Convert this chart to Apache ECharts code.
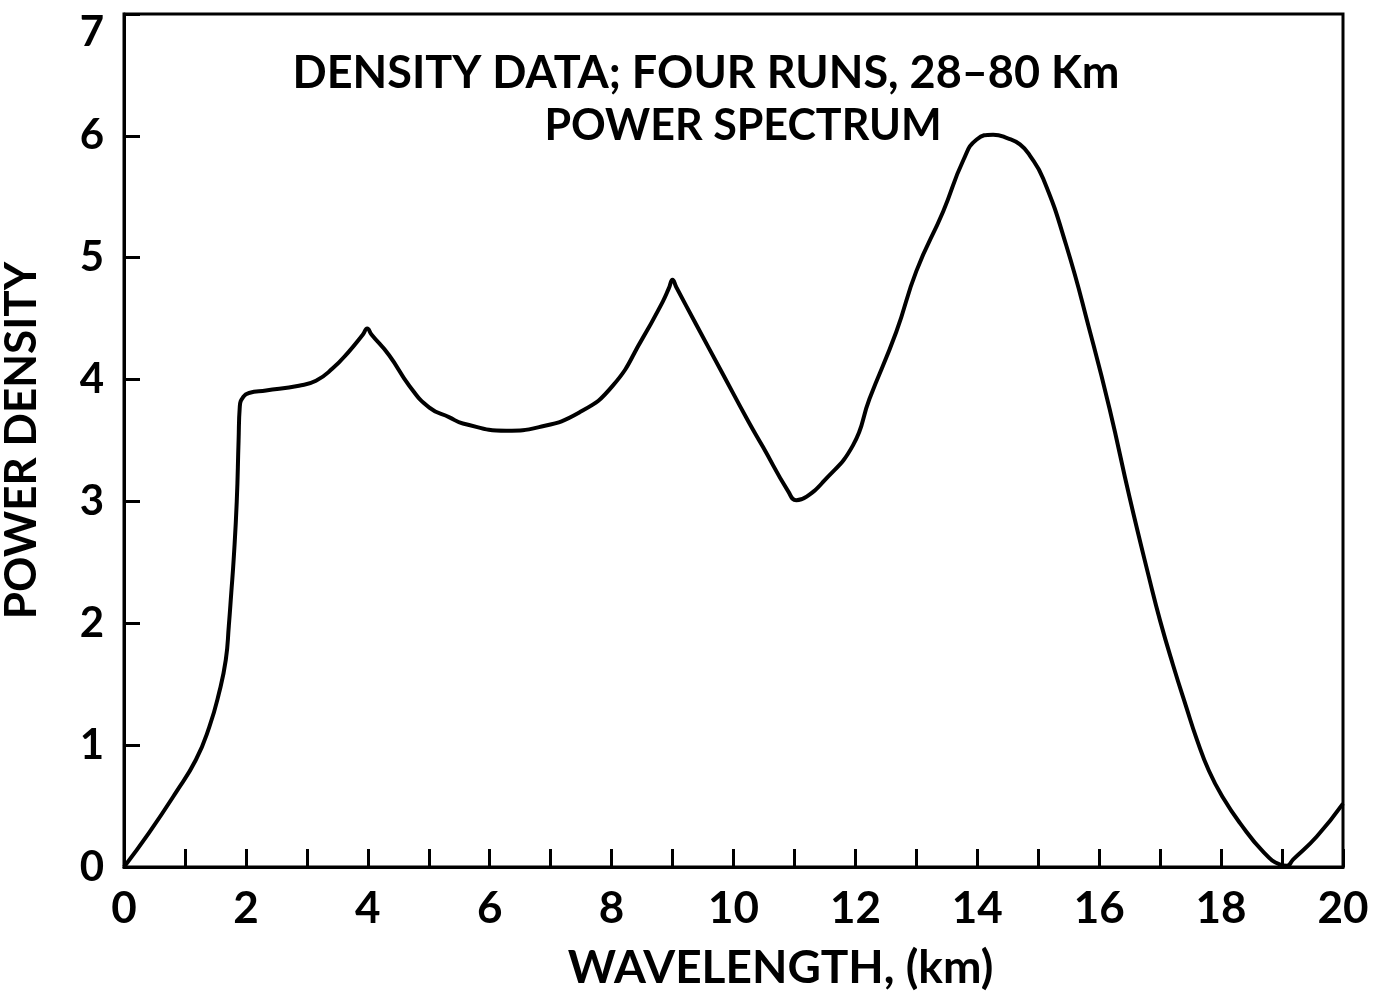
<!DOCTYPE html>
<html>
<head>
<meta charset="utf-8">
<script src="https://cdn.jsdelivr.net/npm/echarts@6/dist/echarts.min.js"></script>
<style>
  html, body { margin: 0; padding: 0; background: #fff; }
  #chart { width: 1381px; height: 992px; }
</style>
</head>
<body>
<div id="chart"></div>
<script>
// Power spectrum of density data (four runs, 28-80 km)
const wavelengthKm = [
  0, 0.41, 0.85, 1.18, 1.40, 1.56, 1.67, 1.72, 1.76, 1.80, 1.85, 1.88, 1.90, 1.96, 2.05,
  2.33, 2.87, 3.15, 3.42, 3.69, 3.92, 3.99, 4.06, 4.35, 4.68, 5.01, 5.34, 5.56, 6.27, 6.81,
  7.47, 8.02, 8.51, 8.84, 8.94, 9.0, 9.06, 9.39, 9.82, 10.24, 10.48, 10.9, 11.03, 11.2, 11.47,
  11.96, 12.23, 12.67, 13.0, 13.44, 13.77, 13.99, 14.26, 14.5, 14.70, 14.86, 15.08,
  15.46, 15.85, 16.17, 16.50, 16.83, 17.0, 17.21, 17.43, 17.6, 17.8, 18.03, 18.31, 18.7,
  18.97, 19.08, 19.18, 19.57, 20.0
];
const powerDensity = [
  0, 0.28, 0.61, 0.88, 1.15, 1.43, 1.70, 1.98, 2.25, 2.53, 3.0, 3.5, 3.78, 3.86, 3.89,
  3.91, 3.95, 3.99, 4.09, 4.23, 4.37, 4.42, 4.37, 4.20, 3.95, 3.77, 3.69, 3.64, 3.58, 3.61,
  3.73, 3.95, 4.34, 4.64, 4.75, 4.82, 4.76, 4.45, 4.05, 3.66, 3.45, 3.08, 3.01, 3.04, 3.16,
  3.46, 3.84, 4.39, 4.89, 5.38, 5.80, 5.97, 6.01, 5.98, 5.93, 5.84, 5.65,
  5.10, 4.39, 3.76, 3.03, 2.35, 2.02, 1.66, 1.31, 1.05, 0.79, 0.57, 0.36, 0.12,
  0.02, 0.01, 0.06, 0.25, 0.52
];
const titleLines = ['DENSITY DATA; FOUR RUNS, 28\u201380 Km', 'POWER SPECTRUM'];
const xAxisTitle = 'WAVELENGTH, (km)';
const yAxisTitle = 'POWER DENSITY';

const FONT = 'Lato, "DejaVu Sans", sans-serif';
const chart = echarts.init(document.getElementById('chart'), null, { renderer: 'canvas' });

const points = wavelengthKm.map((x, i) => [x, powerDensity[i]]);
const Y_MAX = 7;

chart.setOption({
  backgroundColor: '#ffffff',
  animation: false,
  title: [
    {
      text: titleLines[0], left: 701, top: 46, textAlign: 'center',
      textStyle: { fontFamily: FONT, fontWeight: 'bold', fontSize: 45, color: '#000' }
    },
    {
      text: titleLines[1], left: 738, top: 100, textAlign: 'center',
      textStyle: { fontFamily: FONT, fontWeight: 'bold', fontSize: 43, color: '#000' }
    }
  ],
  grid: {
    left: 124, right: 38, top: 14, bottom: 125,
    outerBoundsMode: 'none', containLabel: false,
    show: true, borderColor: '#000', borderWidth: 3, backgroundColor: 'transparent'
  },
  xAxis: {
    type: 'value', min: 0, max: 20, interval: 1,
    name: xAxisTitle, nameLocation: 'middle', nameGap: 78,
    nameTextStyle: { fontFamily: FONT, fontWeight: 'bold', fontSize: 46, color: '#000', padding: [0, 0, 0, 94] },
    axisLine: { show: true, lineStyle: { color: '#000', width: 3 } },
    axisTick: { show: true, inside: true, length: 18, lineStyle: { color: '#000', width: 3 } },
    axisLabel: {
      margin: 20, fontFamily: FONT, fontWeight: 'bold', fontSize: 44, color: '#000',
      formatter: v => (v % 2 === 0 ? String(v) : '')
    },
    splitLine: { show: false }
  },
  yAxis: {
    type: 'value', min: 0, max: Y_MAX, interval: 1,
    name: yAxisTitle, nameLocation: 'middle', nameGap: 80, nameRotate: 90,
    nameTextStyle: { fontFamily: FONT, fontWeight: 'bold', fontSize: 44, color: '#000' },
    axisLine: { show: true, lineStyle: { color: '#000', width: 3 } },
    axisTick: { show: true, inside: true, length: 16, lineStyle: { color: '#000', width: 3 } },
    axisLabel: {
      margin: 20, fontFamily: FONT, fontWeight: 'bold', fontSize: 42, color: '#000',
      // the top label sits just below the frame corner
      formatter: v => (v === Y_MAX ? '{top|' + v + '}' : String(v)),
      rich: {
        top: { fontFamily: FONT, fontWeight: 'bold', fontSize: 42, color: '#000', padding: [36, 0, 0, 0] }
      }
    },
    splitLine: { show: false }
  },
  series: [{
    type: 'line',
    data: points,
    smooth: 0.5,
    showSymbol: false,
    lineStyle: { color: '#000', width: 4 },
    clip: true
  }]
});
</script>
</body>
</html>
